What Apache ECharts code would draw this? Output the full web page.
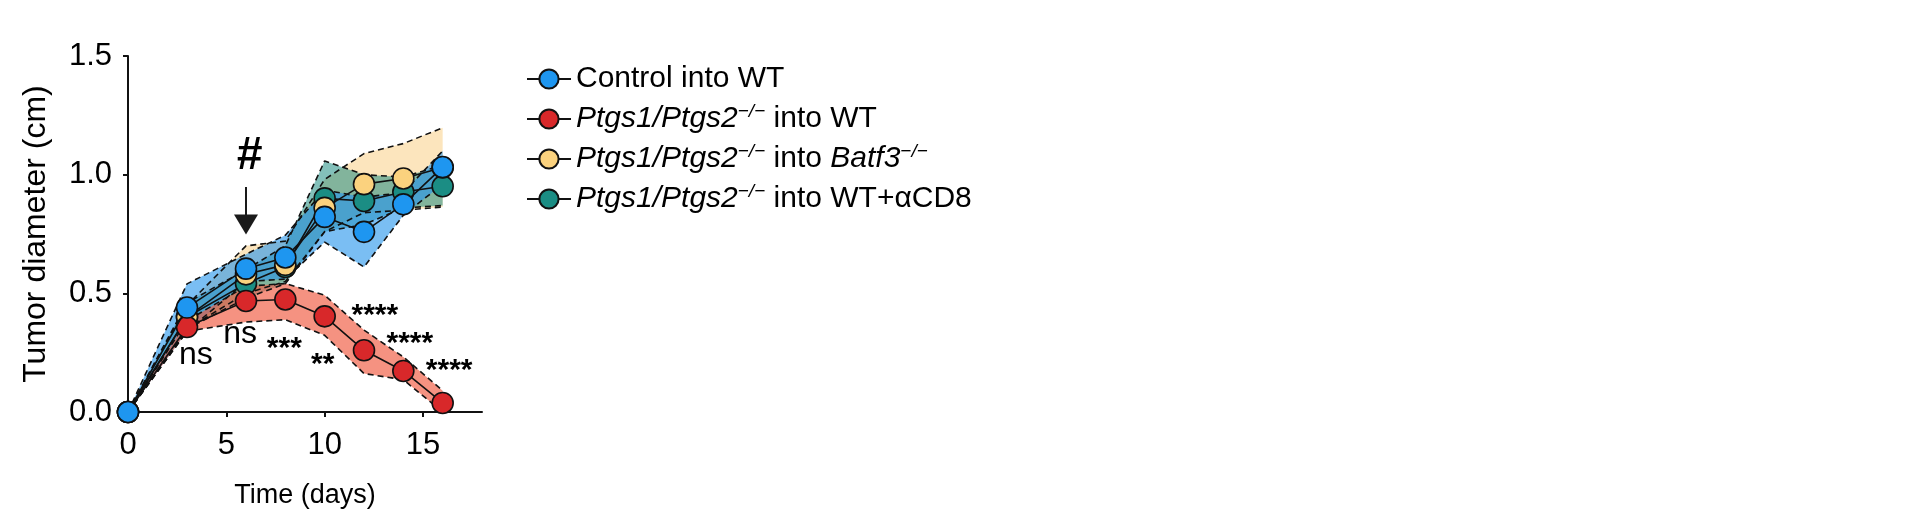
<!DOCTYPE html>
<html>
<head>
<meta charset="utf-8">
<script src="https://cdn.jsdelivr.net/npm/echarts@6/dist/echarts.min.js"></script>
<style>
html,body{margin:0;padding:0;background:#fff;}
#chart{width:1920px;height:524px;}
</style>
</head>
<body>
<div id="chart"></div>
<script>
// ---------- data ----------
const days = [0, 3, 6, 8, 10, 12, 14, 16];
const xTicks = [0, 5, 10, 15];
const yTicks = [0, 0.5, 1.0, 1.5];

const seriesNames = ['Control into WT', 'Ptgs1/Ptgs2 into WT', 'Ptgs1/Ptgs2 into Batf3', 'Ptgs1/Ptgs2 into WT+aCD8'];

const controlMean  = [0, 0.44, 0.604, 0.651, 0.822, 0.759, 0.875, 1.032];
const controlUpper = [0, 0.54, 0.665, 0.745, 0.935, 0.905, 0.925, 1.10];
const controlLower = [0, 0.34, 0.55, 0.56, 0.716, 0.611, 0.829, 0.96];

const ptgsWtMean  = [0, 0.358, 0.468, 0.474, 0.403, 0.26, 0.173, 0.038];
const ptgsWtUpper = [0, 0.385, 0.53, 0.541, 0.492, 0.345, 0.232, 0.09];
const ptgsWtLower = [0, 0.34, 0.379, 0.389, 0.323, 0.162, 0.136, 0.0];

const batf3Mean  = [0, 0.40, 0.58, 0.62, 0.86, 0.96, 0.984, 1.03];
const batf3Upper = [0, 0.45, 0.70, 0.72, 0.98, 1.089, 1.131, 1.198];
const batf3Lower = [0, 0.35, 0.50, 0.55, 0.76, 0.84, 0.85, 0.864];

const cd8Mean  = [0, 0.40, 0.541, 0.611, 0.90, 0.889, 0.927, 0.951];
const cd8Upper = [0, 0.46, 0.60, 0.70, 1.058, 1.00, 0.99, 1.04];
const cd8Lower = [0, 0.35, 0.48, 0.54, 0.76, 0.79, 0.86, 0.87];

// significance annotations (visual centre positions)
const annoX    = [3.45, 5.7, 7.95, 9.9, 12.55, 14.33, 16.33];
const annoY    = [0.232, 0.319, 0.291, 0.225, 0.4315, 0.313, 0.20];
const annoText = ['ns', 'ns', '***', '**', '****', '****', '****'];

// treatment marker (# and arrow) at day 6
const hashX = 6.15, hashY = 1.079;
const arrowFrom = [6, 0.948], arrowTo = [6, 0.79];

// ---------- styles ----------
const FONT = '"Liberation Sans", Arial, Helvetica, sans-serif';
const markerColors = ['#1e96f0', '#d8282a', '#fbd27e', '#1b8d84'];
const bandFills = ['rgba(40,150,235,0.62)', 'rgba(240,95,70,0.68)', 'rgba(250,208,135,0.55)', 'rgba(30,140,130,0.55)'];

const means  = [controlMean, ptgsWtMean, batf3Mean, cd8Mean];
const uppers = [controlUpper, ptgsWtUpper, batf3Upper, cd8Upper];
const lowers = [controlLower, ptgsWtLower, batf3Lower, cd8Lower];

const legendRich = {
  'Control into WT': '{n|Control into WT}',
  'Ptgs1/Ptgs2 into WT': '{i|Ptgs1/Ptgs2}{s|\u2212/\u2212}{n| into WT}',
  'Ptgs1/Ptgs2 into Batf3': '{i|Ptgs1/Ptgs2}{s|\u2212/\u2212}{n| into }{i|Batf3}{s|\u2212/\u2212}',
  'Ptgs1/Ptgs2 into WT+aCD8': '{i|Ptgs1/Ptgs2}{s|\u2212/\u2212}{n| into WT+\u03b1CD8}'
};

function pairs(arr) { return days.map((d, i) => [d, arr[i]]); }

const bandOrder = [2, 3, 0, 1]; // yellow, teal, blue, red
const series = [];
bandOrder.forEach((k, j) => {
  series.push({
    type: 'custom', silent: true, z: 1 + j * 0.01,
    data: [[0, 0]],
    renderItem: function (params, api) {
      const pts = [];
      days.forEach((d, i) => pts.push(api.coord([d, uppers[k][i]])));
      for (let i = days.length - 1; i >= 0; i--) pts.push(api.coord([days[i], lowers[k][i]]));
      return { type: 'polygon', shape: { points: pts }, style: { fill: bandFills[k] } };
    }
  });
});
[0, 1, 2, 3].forEach(k => {
  [uppers[k], lowers[k]].forEach(arr => {
    series.push({
      type: 'line', silent: true, z: 2, symbol: 'none',
      data: pairs(arr),
      lineStyle: { color: '#111', width: 1.6, type: [6, 4] }
    });
  });
});
const markerOrder = [3, 2, 1, 0]; // teal lowest, blue on top
markerOrder.forEach((k, j) => {
  series.push({
    name: seriesNames[k],
    type: 'line', z: 3 + j,
    data: pairs(means[k]),
    symbol: 'circle', symbolSize: 21,
    lineStyle: { color: '#111', width: 1.6 },
    itemStyle: { color: markerColors[k], borderColor: '#111', borderWidth: 1.6 }
  });
});
// annotations drawn as text through the axes' coordinate system
series.push({
  type: 'custom', z: 10, silent: true,
  data: annoX.map((x, i) => [x, annoY[i], i]),
  renderItem: function (params, api) {
    const p = api.coord([api.value(0), api.value(1)]);
    const t = annoText[api.value(2)];
    const isNs = t === 'ns';
    return {
      type: 'text', x: p[0], y: p[1] + (isNs ? -2 : 6),
      style: {
        text: t, fill: '#000', align: 'center', verticalAlign: 'middle',
        font: (isNs ? 'normal 32px ' : 'bold 30px ') + FONT
      }
    };
  },
  markLine: {
    silent: true, animation: false,
    symbol: ['none', 'triangle'], symbolSize: [24, 20],
    lineStyle: { color: '#1a1a1a', width: 2, type: 'solid' },
    itemStyle: { color: '#1a1a1a' },
    label: { show: false },
    data: [[{ coord: arrowFrom }, { coord: arrowTo }]]
  }
});
series.push({
  type: 'custom', z: 10, silent: true,
  data: [[hashX, hashY]],
  renderItem: function (params, api) {
    const p = api.coord([api.value(0), api.value(1)]);
    return {
      type: 'text', x: p[0], y: p[1],
      style: { text: '#', fill: '#000', align: 'center', verticalAlign: 'middle', font: 'italic bold 46px ' + FONT }
    };
  }
});

const chart = echarts.init(document.getElementById('chart'), null, { renderer: 'canvas' });
chart.setOption({
  animation: false,
  backgroundColor: '#fff',
  textStyle: { fontFamily: FONT },
  grid: { left: 128, right: 1438, top: 56, bottom: 112, containLabel: false },
  legend: {
    orient: 'vertical', left: 521, top: 57,
    itemWidth: 44, itemHeight: 24, itemGap: 6,
    data: seriesNames,
    formatter: name => legendRich[name],
    textStyle: {
      fontFamily: FONT, fontSize: 30, color: '#000', lineHeight: 34,
      rich: {
        n: { fontFamily: FONT, fontSize: 30, color: '#000', lineHeight: 34 },
        i: { fontFamily: FONT, fontSize: 30, color: '#000', fontStyle: 'italic', lineHeight: 34 },
        s: { fontFamily: FONT, fontSize: 19, color: '#000', fontStyle: 'italic', verticalAlign: 'top', lineHeight: 34 }
      }
    }
  },
  xAxis: {
    type: 'value', min: 0, max: 18, interval: 5,
    name: 'Time (days)', nameLocation: 'middle', nameGap: 70,
    nameTextStyle: { fontFamily: FONT, fontSize: 27, color: '#000' },
    axisLine: { show: true, onZero: false, lineStyle: { color: '#111', width: 2 } },
    axisTick: { show: true, length: 5, lineStyle: { color: '#111', width: 2 }, customValues: xTicks },
    axisLabel: { fontFamily: FONT, fontSize: 31, color: '#000', margin: 18, customValues: xTicks },
    splitLine: { show: false }
  },
  yAxis: {
    type: 'value', min: 0, max: 1.5, interval: 0.5,
    name: 'Tumor diameter (cm)', nameLocation: 'middle', nameGap: 76,
    nameTextStyle: { fontFamily: FONT, fontSize: 32, color: '#000' },
    axisLine: { show: true, lineStyle: { color: '#111', width: 2 } },
    axisTick: { show: true, length: 5, lineStyle: { color: '#111', width: 2 }, customValues: yTicks },
    axisLabel: { fontFamily: FONT, fontSize: 31, color: '#000', margin: 16, customValues: yTicks, formatter: v => v.toFixed(1) },
    splitLine: { show: false }
  },
  tooltip: { show: false },
  series: series
});
</script>
</body>
</html>
